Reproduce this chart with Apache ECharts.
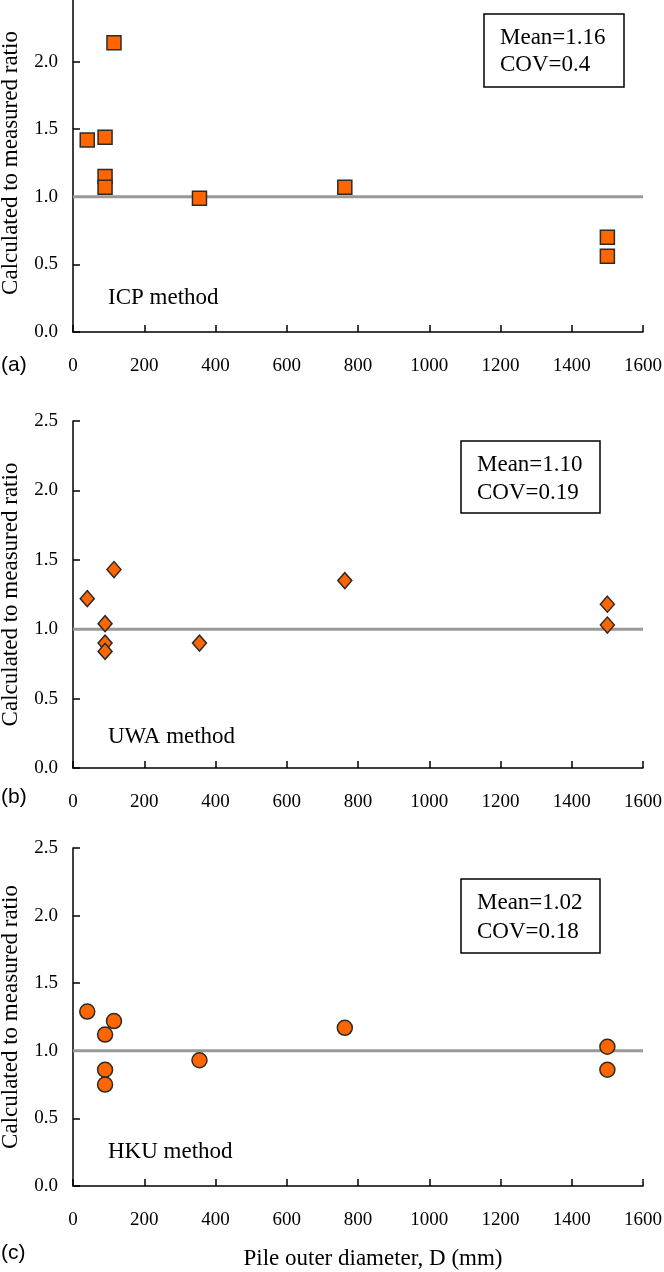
<!DOCTYPE html>
<html>
<head>
<meta charset="utf-8">
<script src="https://cdn.jsdelivr.net/npm/echarts@6/dist/echarts.min.js"></script>
<style>
html,body{margin:0;padding:0;background:#fff;overflow:hidden;}
#wrap{width:664px;height:1272px;overflow:hidden;position:relative;}
#c{width:664px;height:1278px;position:absolute;left:0;top:-6px;}
</style>
</head>
<body>
<div id="wrap"><div id="c"></div></div>
<script>
// ---- data ----
const diameters = [40, 90, 90, 90, 115, 355, 763, 1500, 1500];
const icpRatio = [1.42, 1.44, 1.15, 1.07, 2.14, 0.99, 1.07, 0.70, 0.56];
const uwaRatio = [1.22, 1.04, 0.90, 0.84, 1.43, 0.90, 1.35, 1.18, 1.03];
const hkuRatio = [1.29, 1.12, 0.86, 0.75, 1.22, 0.93, 1.17, 1.03, 0.86];
const methodNames = ['ICP method', 'UWA method', 'HKU method'];
const statsText = [['Mean=1.16', 'COV=0.4'], ['Mean=1.10', 'COV=0.19'], ['Mean=1.02', 'COV=0.18']];
const panelLetters = ['(a)', '(b)', '(c)'];
const refLine = [[0, 1], [1600, 1]];
const yName = 'Calculated to measured ratio';
const xName = 'Pile outer diameter, D (mm)';

const serif = '"Liberation Serif", "Times New Roman", serif';
const sans = '"Liberation Sans", Arial, sans-serif';
const OFF = 6; // chart canvas is shifted up by this many px (top of panel a is cropped)

const gridBase = {left: 73, right: 21, containLabel: false, outerBoundsMode: 'none'};
const grids = [
  Object.assign({}, gridBase, {top: 0, height: 338}),
  Object.assign({}, gridBase, {top: 421 + OFF, height: 347}),
  Object.assign({}, gridBase, {top: 848 + OFF, height: 338})
];
const symbols = ['rect', 'diamond', 'circle'];
const symSizes = [14, [14, 16], 15];
const ratios = [icpRatio, uwaRatio, hkuRatio];

const xAxes = [], yAxes = [], series = [];
for (let i = 0; i < 3; i++) {
  xAxes.push({
    type: 'value', gridIndex: i, min: 0, max: 1600, interval: 200,
    axisLine: {show: true, onZero: false, lineStyle: {color: '#000', width: 1.5}},
    axisTick: {show: true, inside: true, length: 7, lineStyle: {color: '#000', width: 1.5}},
    axisLabel: {color: '#000', fontFamily: serif, fontSize: 19, margin: 25,
      formatter: v => String(v)},
    splitLine: {show: false},
    name: i === 2 ? xName : '',
    nameLocation: 'middle', nameGap: 61,
    nameTextStyle: {color: '#000', fontFamily: serif, fontSize: 23, padding: [0, 0, 0, 30]}
  });
  yAxes.push({
    type: 'value', gridIndex: i, min: 0, max: 2.5, interval: 0.5,
    axisLine: {show: true, lineStyle: {color: '#000', width: 1.5}},
    axisTick: {show: true, inside: true, length: 7, lineStyle: {color: '#000', width: 1.5}},
    axisLabel: {color: '#000', fontFamily: serif, fontSize: 19, margin: 15,
      formatter: v => v.toFixed(1)},
    splitLine: {show: false},
    name: yName, nameLocation: 'middle', nameGap: 51,
    nameTextStyle: {color: '#000', fontFamily: serif, fontSize: 23}
  });
  series.push({
    type: 'line', xAxisIndex: i, yAxisIndex: i, data: refLine,
    symbol: 'none', silent: true, z: 1,
    lineStyle: {color: '#999', width: 3}
  });
  series.push({
    type: 'scatter', xAxisIndex: i, yAxisIndex: i, z: 3,
    data: diameters.map((d, k) => [d, ratios[i][k]]),
    symbol: symbols[i], symbolSize: symSizes[i],
    itemStyle: {color: '#ff6600', borderColor: '#2b2b2b', borderWidth: 1.5, opacity: 1}
  });
}

const boxes = [
  {x: 484, y: 14, w: 140, h: 73, tx: 500, ty1: 38, ty2: 65},
  {x: 461, y: 441, w: 139, h: 72, tx: 477, ty1: 465, ty2: 493},
  {x: 461, y: 879, w: 139, h: 74, tx: 477, ty1: 903, ty2: 932}
];
const methodPos = [{x: 108, y: 298}, {x: 108, y: 737}, {x: 108, y: 1152}];
const letterPos = [{x: 1, y: 365}, {x: 1, y: 797}, {x: 1, y: 1253}];

const graphic = [];
for (let i = 0; i < 3; i++) {
  const b = boxes[i];
  graphic.push({type: 'rect', shape: {x: b.x, y: b.y + OFF, width: b.w, height: b.h},
    style: {fill: '#fff', stroke: '#000', lineWidth: 1.5}, z: 10});
  graphic.push({type: 'text', x: b.tx, y: b.ty1 + OFF, z: 11,
    style: {text: statsText[i][0], font: '23px ' + serif, fill: '#000', textVerticalAlign: 'middle', verticalAlign: 'middle'}});
  graphic.push({type: 'text', x: b.tx, y: b.ty2 + OFF, z: 11,
    style: {text: statsText[i][1], font: '23px ' + serif, fill: '#000', textVerticalAlign: 'middle', verticalAlign: 'middle'}});
  graphic.push({type: 'text', x: methodPos[i].x, y: methodPos[i].y + OFF, z: 11,
    style: {text: methodNames[i], font: '23px ' + serif, fill: '#000', textVerticalAlign: 'middle', verticalAlign: 'middle'}});
  graphic.push({type: 'text', x: letterPos[i].x, y: letterPos[i].y + OFF, z: 11,
    style: {text: panelLetters[i], font: '21px ' + sans, fill: '#000', textVerticalAlign: 'middle', verticalAlign: 'middle'}});
}

const chart = echarts.init(document.getElementById('c'), null, {renderer: 'canvas'});
chart.setOption({
  animation: false,
  backgroundColor: '#fff',
  grid: grids,
  xAxis: xAxes,
  yAxis: yAxes,
  series: series,
  graphic: graphic
});
</script>
</body>
</html>
